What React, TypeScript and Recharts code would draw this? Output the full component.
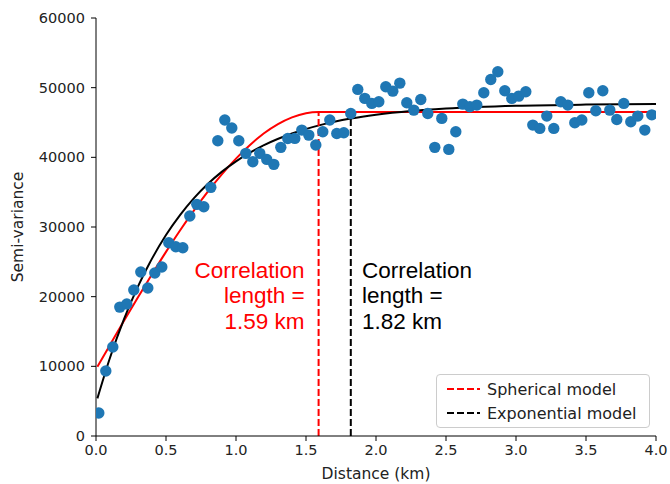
import React from 'react';
import {
  ComposedChart,
  XAxis,
  YAxis,
  Scatter,
  Line,
  ReferenceLine,
  ReferenceDot,
  Legend,
} from 'recharts';

// Empirical semi-variogram: lag distance (km) and semi-variance
const distances = [
  0.02, 0.07, 0.12, 0.17, 0.22, 0.27, 0.32, 0.37, 0.42, 0.47,
  0.52, 0.57, 0.62, 0.67, 0.72, 0.77, 0.82, 0.87, 0.92, 0.97,
  1.02, 1.07, 1.12, 1.17, 1.22, 1.27, 1.32, 1.37, 1.42, 1.47,
  1.52, 1.57, 1.62, 1.67, 1.72, 1.77, 1.82, 1.87, 1.92, 1.97,
  2.02, 2.07, 2.12, 2.17, 2.22, 2.27, 2.32, 2.37, 2.42, 2.47,
  2.52, 2.57, 2.62, 2.67, 2.72, 2.77, 2.82, 2.87, 2.92, 2.97,
  3.02, 3.07, 3.12, 3.17, 3.22, 3.27, 3.32, 3.37, 3.42, 3.47,
  3.52, 3.57, 3.62, 3.67, 3.72, 3.77, 3.82, 3.87, 3.92, 3.97,
];
const semivariance = [
  3300, 9330, 12770, 18500, 18940, 20950, 23530, 21240, 23390, 24250,
  27740, 27170, 27020, 31570, 33250, 32900, 35690, 42380, 45350, 44200,
  42380, 40570, 39370, 40570, 39700, 38990, 41430, 42700, 42720, 43910,
  43190, 41760, 43670, 45350, 43430, 43530, 46300, 49750, 48460, 47740,
  47980, 50130, 49500, 50650, 47830, 46780, 48310, 46300, 41430, 45590,
  41140, 43670, 47640, 47260, 47500, 49270, 51180, 52280, 49550, 48460,
  48790, 49410, 44630, 44150, 45920, 44150, 47980, 47500, 44960, 45350,
  49270, 46690, 49550, 46780, 45440, 47740, 45100, 45920, 43910, 46100,
];

// Fitted spherical model curve
const sphericalX = [0.01, 0.1, 0.2, 0.3, 0.4, 0.5, 0.6, 0.7, 0.8, 0.9, 1.0, 1.1, 1.2, 1.3, 1.4, 1.5, 1.59, 2.5, 4.0];
const sphericalY = [9950, 13080, 16530, 19920, 23230, 26430, 29500, 32390, 35100, 37590, 39820, 41780, 43450, 44770, 45740, 46330, 46500, 46500, 46500];

// Fitted exponential model curve
const exponentialX = [0.01, 0.1, 0.2, 0.3, 0.4, 0.5, 0.6, 0.7, 0.8, 0.9, 1.0, 1.2, 1.4, 1.6, 1.82, 2.0, 2.25, 2.5, 3.0, 3.5, 4.0];
const exponentialY = [5400, 11230, 16770, 21470, 25460, 28840, 31700, 34140, 36200, 37950, 39430, 41750, 43420, 44620, 45560, 46110, 46650, 47000, 47400, 47570, 47640];

// Correlation lengths and model values there
const sphericalRange = 1.59;
const sphericalSill = 46500;
const exponentialRange = 1.82;
const exponentialAtRange = 45560;

const xTicks = [0, 0.5, 1.0, 1.5, 2.0, 2.5, 3.0, 3.5, 4.0];
const yTicks = [0, 10000, 20000, 30000, 40000, 50000, 60000];

const legendItems = [
  { label: 'Spherical model', color: '#ff0000' },
  { label: 'Exponential model', color: '#000000' },
];

const points = distances.map((x, i) => ({ x, y: semivariance[i] }));
const sphericalData = sphericalX.map((x, i) => ({ x, y: sphericalY[i] }));
const exponentialData = exponentialX.map((x, i) => ({ x, y: exponentialY[i] }));

const FONT = 'DejaVu Sans, sans-serif';
const ANNOT_FONT = 'Liberation Sans, Arial, sans-serif';
const TEXT = '#222222';

const Dot = (props: any) => (
  <circle cx={props.cx} cy={props.cy} r={5.7} fill="#1f77b4" />
);

const YLabel = (props: any) => {
  const vb = props.viewBox || { x: 0, y: 0, height: 0 };
  const cx = vb.x + 10;
  const cy = vb.y + vb.height / 2;
  return (
    <text
      x={cx}
      y={cy}
      transform={`rotate(-90 ${cx} ${cy})`}
      textAnchor="middle"
      dominantBaseline="central"
      fontFamily={FONT}
      fontSize={15.5}
      fill={TEXT}
    >
      Semi-variance
    </text>
  );
};

const XLabel = (props: any) => {
  const vb = props.viewBox || { x: 0, y: 0, width: 0 };
  return (
    <text
      x={vb.x + vb.width / 2}
      y={vb.y + 38}
      textAnchor="middle"
      dominantBaseline="central"
      fontFamily={FONT}
      fontSize={15.5}
      fill={TEXT}
    >
      Distance (km)
    </text>
  );
};

const makeNote = (lines: string[], color: string, anchor: 'start' | 'end') => (props: any) => (
  <text
    x={props.cx}
    y={props.cy}
    textAnchor={anchor}
    fontFamily={ANNOT_FONT}
    fontSize={22.5}
    fill={color}
  >
    {lines.map((l, i) => (
      <tspan key={i} x={props.cx} dy={i === 0 ? 0 : 25.5}>
        {l}
      </tspan>
    ))}
  </text>
);

const sphericalNote = makeNote(['Correlation', 'length =', `${sphericalRange} km`], '#ff0000', 'end');
const exponentialNote = makeNote(['Correlation', 'length =', `${exponentialRange} km`], '#000000', 'start');

const LegendBox = () => (
  <div
    style={{
      border: '1px solid #cccccc',
      borderRadius: 4,
      background: 'rgba(255,255,255,0.8)',
      padding: '2px 6px 4px 10px',
      fontFamily: FONT,
      fontSize: 16,
      color: TEXT,
      boxSizing: 'border-box',
      width: 214,
      height: 54,
    }}
  >
    {legendItems.map((item) => (
      <div key={item.label} style={{ display: 'flex', alignItems: 'center', height: 24 }}>
        <svg width={33} height={10} style={{ flex: 'none' }}>
          <line x1={0} y1={5} x2={33} y2={5} stroke={item.color} strokeWidth={2} strokeDasharray="7 3" />
        </svg>
        <span style={{ marginLeft: 7, whiteSpace: 'nowrap' }}>{item.label}</span>
      </div>
    ))}
  </div>
);

export default function App() {
  return (
    <div style={{ position: 'fixed', left: 8, top: 8 }}>
      <style>{'.recharts-surface{overflow:visible}'}</style>
      <ComposedChart
        width={662}
        height={476}
        margin={{ top: 10, right: 14, bottom: 0, left: 0 }}
        style={{ background: '#ffffff' }}
      >
        <XAxis
          dataKey="x"
          type="number"
          domain={[0, 4]}
          ticks={xTicks}
          tickFormatter={(v: number) => v.toFixed(1)}
          allowDataOverflow
          height={48}
          tickSize={5}
          tickMargin={4}
          stroke="#000000"
          tick={{ fill: TEXT, fontFamily: FONT, fontSize: 14.5 }}
          label={<XLabel />}
        />
        <XAxis
          xAxisId="frame"
          orientation="top"
          type="number"
          domain={[0, 4]}
          height={0}
          tick={false}
          tickLine={false}
          stroke="#000000"
        />
        <YAxis
          type="number"
          domain={[0, 60000]}
          ticks={yTicks}
          allowDataOverflow
          width={88}
          tickSize={5}
          tickMargin={6}
          stroke="#000000"
          tick={{ fill: TEXT, fontFamily: FONT, fontSize: 14.5 }}
          label={<YLabel />}
        />
        <YAxis
          yAxisId="frame"
          orientation="right"
          type="number"
          domain={[0, 60000]}
          width={0}
          tick={false}
          tickLine={false}
          stroke="#000000"
        />
        <Scatter data={points} dataKey="y" shape={Dot} isAnimationActive={false} />
        <Line
          data={sphericalData}
          dataKey="y"
          type="monotone"
          stroke="#ff0000"
          strokeWidth={2}
          dot={false}
          activeDot={false}
          isAnimationActive={false}
        />
        <Line
          data={exponentialData}
          dataKey="y"
          type="monotone"
          stroke="#000000"
          strokeWidth={2}
          dot={false}
          activeDot={false}
          isAnimationActive={false}
        />
        <ReferenceLine
          segment={[
            { x: sphericalRange, y: 0 },
            { x: sphericalRange, y: sphericalSill },
          ]}
          stroke="#ff0000"
          strokeWidth={2}
          strokeDasharray="7 3"
        />
        <ReferenceLine
          segment={[
            { x: exponentialRange, y: 0 },
            { x: exponentialRange, y: exponentialAtRange },
          ]}
          stroke="#000000"
          strokeWidth={2}
          strokeDasharray="7 3"
        />
        <ReferenceDot x={1.49} y={22700} r={0} shape={sphericalNote} />
        <ReferenceDot x={1.9} y={22700} r={0} shape={exponentialNote} />
        <Legend
          layout="vertical"
          align="center"
          verticalAlign="middle"
          content={<LegendBox />}
          wrapperStyle={{ left: 428, top: 366, width: 214 }}
        />
      </ComposedChart>
    </div>
  );
}
